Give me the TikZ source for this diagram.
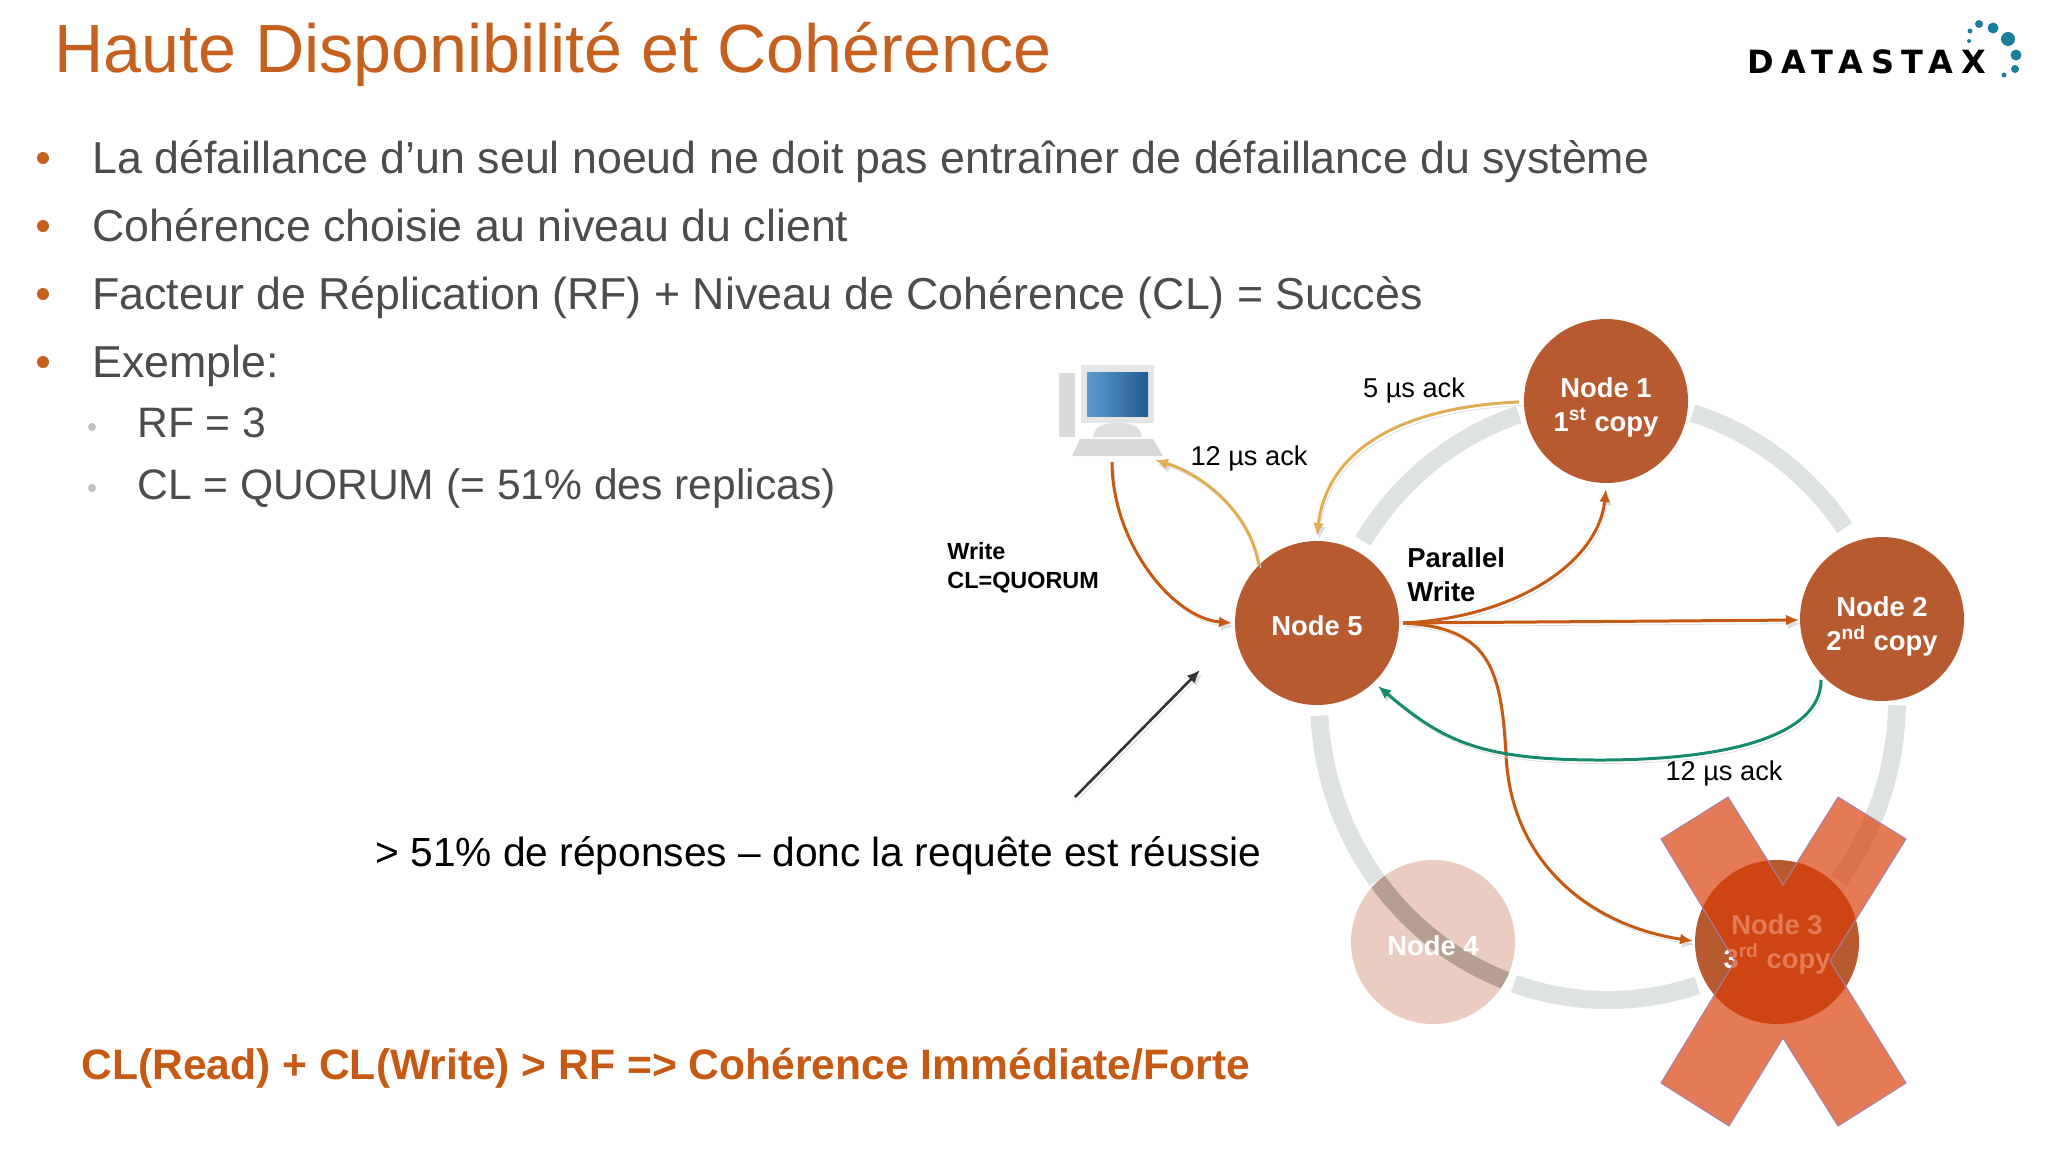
\documentclass[tikz,border=0pt]{standalone}
\usepackage{fontspec}
\usetikzlibrary{arrows.meta}
\setmainfont{Liberation Sans}
\newfontfamily\logofont[LetterSpace=24]{DejaVu Sans}
\definecolor{rust}{HTML}{B85A30}
\definecolor{ringgrey}{HTML}{DEE2E2}
\definecolor{ringdark}{HTML}{B4BEBA}
\definecolor{titleorange}{HTML}{C5601F}
\definecolor{bodygrey}{HTML}{4F4B48}
\definecolor{wire}{HTML}{C65A14}
\definecolor{ackgold}{HTML}{E0AD55}
\definecolor{ackgreen}{HTML}{178A6E}
\definecolor{crossred}{HTML}{D93B06}
\definecolor{logoblue}{HTML}{1A7F9E}
\definecolor{screenleft}{HTML}{5C9BD0}
\definecolor{screenright}{HTML}{245A8F}
\tikzset{
	nodecircle/.style={circle, fill=rust, minimum size=82pt, inner sep=0pt},
	nodecaption/.style={inner sep=0pt, align=center, text=white, font=\fontsize{13.7}{17}\selectfont\bfseries},
	bulletline/.style={anchor=base west, inner sep=0pt, text=bodygrey, font=\fontsize{22.37}{26}\selectfont},
	subline/.style={anchor=base west, inner sep=0pt, text=bodygrey, font=\fontsize{21.3}{26}\selectfont},
	smalllabel/.style={anchor=center, inner sep=0pt, font=\fontsize{13.6}{17}\selectfont},
	softshadow/.style={preaction={draw=black!13, transform canvas={shift={(1pt,-1.8pt)}}}},
	tipped/.style={-{Latex[length=6.5pt,width=5.5pt]}},
	wirearrow/.style={tipped, softshadow, line width=1.5pt, color=wire},
	goldarrow/.style={tipped, softshadow, line width=1.5pt, color=ackgold},
	ringpart/.style={line width=9pt, color=ringgrey},
}
\def\ringarc[#1](#2:#3){\draw[ringpart,#1] plot[domain=#2:#3,samples=40,smooth] ({1608+289*cos(\x)},{700+300*sin(\x)});}

\begin{document}
\begin{tikzpicture}[x=0.5pt,y=-0.5pt]
	%%%%% PAGE %%%%%
	\useasboundingbox (0,0) rectangle (2048,1152);
	
	\node[anchor=base west, inner sep=0pt, text=titleorange, font=\fontsize{34.1}{38}\selectfont] (title) at (54,72) {Haute Disponibilité et Cohérence};
	
	\node[anchor=base west, inner sep=0pt, font=\logofont\fontsize{16}{18}\selectfont\bfseries] (logo) at (1747,73) {DATASTAX};
	\fill[logoblue] (1979,24) circle (4);
	\fill[logoblue] (1993,28) circle (5.5);
	\fill[logoblue] (2008,39) circle (7);
	\fill[logoblue] (2016,55) circle (5.5);
	\fill[logoblue] (2015,69) circle (4);
	\fill[logoblue] (2004,75) circle (2.5);
	\fill[logoblue] (1970,31) circle (2.5);
	\fill[logoblue] (1969,41) circle (2);
	
	\fill[titleorange] (43,158) circle (6);
	\fill[titleorange] (43,226) circle (6);
	\fill[titleorange] (43,294) circle (6);
	\fill[titleorange] (43,362) circle (6);
	\fill[black!25] (92,427) circle (4);
	\fill[black!25] (92,488) circle (4);
	
	\node[bulletline] (lineone) at (92,173) {La défaillance d’un seul noeud ne doit pas entraîner de défaillance du système};
	\node[bulletline] (linetwo) at (92,241) {Cohérence choisie au niveau du client};
	\node[bulletline] (linethree) at (92,309) {Facteur de Réplication (RF) + Niveau de Cohérence (CL) = Succès};
	\node[bulletline] (linefour) at (92,377) {Exemple:};
	\node[subline] (linerf) at (137,437) {RF = 3};
	\node[subline] (linecl) at (137,499) {CL = QUORUM (= 51\% des replicas)};
	
	\node[anchor=base west, inner sep=0pt, font=\fontsize{20.35}{25}\selectfont] (answer) at (375,866) {> 51\% de réponses – donc la requête est réussie};
	\node[anchor=base west, inner sep=0pt, text=wire, font=\fontsize{21.3}{25}\selectfont\bfseries] (rule) at (81,1079) {CL(Read) + CL(Write) > RF => Cohérence Immédiate/Forte};
	
	%%%%% RING %%%%%
	\ringarc[](-73:-35);
	\ringarc[](-148:-108);
	\ringarc[](1:37);
	\ringarc[](72:109);
	\ringarc[](177:143);
	
	%%%%% COMPUTER %%%%%
	\fill[black!14] (1059,373) rectangle (1075,437);
	\fill[black!10] (1081,365) rectangle (1154,423);
	\shade[left color=screenleft, right color=screenright] (1087,372) rectangle (1148,416);
	\fill[black!13] (1093,437) .. controls (1095,425) and (1105,423) .. (1118,423) .. controls (1130,423) and (1140,425) .. (1142,437) -- cycle;
	\fill[black!15] (1080,439) -- (1153,439) -- (1163,456) -- (1072,456) -- cycle;
	
	%%%%% NODES %%%%%
	\node[nodecircle] (n1) at (1606,401) {};
	\node[nodecircle] (n2) at (1882,619) {};
	\node[nodecircle] (n3) at (1777,942) {};
	\node[nodecircle] (n5) at (1317,623) {};
	
	\begin{scope}
		\clip (1433,942) circle (82);
		\ringarc[color=ringdark](143:108);
	\end{scope}
	\node[nodecircle, fill opacity=0.3] (n4) at (1433,942) {};
	
	\node[nodecaption, yshift=-3pt] (capone) at (n1) {Node 1\\1\textsuperscript{st} copy};
	\node[nodecaption, yshift=-3.5pt] (captwo) at (n2) {Node 2\\2\textsuperscript{nd} copy};
	\node[nodecaption, yshift=-1pt] (capthree) at (n3) {Node 3\\3\textsuperscript{rd} copy};
	\node[nodecaption, yshift=-2pt] (capfour) at (n4) {Node 4};
	\node[nodecaption, yshift=-1.5pt] (capfive) at (n5) {Node 5};
	
	\draw[line width=0.5pt, draw=violet!40!gray!70, fill=crossred, fill opacity=0.68] (1728,797) -- (1661,839) -- (1735,961) -- (1661,1083) -- (1729,1126) -- (1783,1038) -- (1838,1126) -- (1906,1083) -- (1830,961) -- (1906,839) -- (1838,797) -- (1783,885) -- cycle;
	
	%%%%% ARROWS %%%%%
	\coordinate (client) at (1112,462);
	\coordinate (clientin) at (1155,460);
	\coordinate (answertip) at (1075,797);
	\coordinate (nfivein) at (1232,623);
	\coordinate (nfivetop) at (1317,536);
	\coordinate (nfivewire) at (1403,623);
	\coordinate (nfivenear) at (1200,670);
	\coordinate (nonein) at (1606,489);
	\coordinate (noneout) at (1519,402);
	\coordinate (ntwoin) at (1799,620);
	\coordinate (nthreein) at (1693,941);
	\coordinate (ntwoout) at (1821,680);
	\coordinate (nfiveack) at (1378,686);
	\coordinate (wirebend) at (1506,755);
	\coordinate (ackbottom) at (1600,760);
	
	\draw[wirearrow] (client) .. controls +(0,80) and +(-60,-5) .. (nfivein);
	\draw[goldarrow] (n5.135) .. controls +(-8,-50) and +(50,15) .. (clientin);
	\draw[goldarrow] (noneout) .. controls +(-120,5) and +(10,-85) .. (nfivetop);
	\draw[wirearrow] (nfivewire) .. controls +(110,-5) and +(-8,75) .. (nonein);
	\draw[wirearrow] (nfivewire) -- (ntwoin);
	\draw[wirearrow] (nfivewire) .. controls +(85,5) and +(-5,-90) .. (wirebend) .. controls +(5,110) and +(-100,-15) .. (nthreein);
	\draw[tipped, softshadow, line width=1.5pt, color=ackgreen] (ntwoout) .. controls +(0,55) and +(130,0) .. (ackbottom) .. controls +(-120,0) and +(65,55) .. (nfiveack);
	\draw[tipped, softshadow, line width=1.3pt, color=black!80] (answertip) -- (nfivenear);
	
	%%%%% LABELS %%%%%
	\node[smalllabel] (ackone) at (1414,390) {5 µs ack};
	\node[smalllabel] (ackclient) at (1249,458) {12 µs ack};
	\node[smalllabel] (acktwo) at (1724,773) {12 µs ack};
	\node[anchor=west, inner sep=0pt, align=left, font=\fontsize{13.7}{17}\selectfont\bfseries] (parallel) at (1407,575) {Parallel\\Write};
	\node[anchor=west, inner sep=0pt, align=left, font=\fontsize{11.7}{14.5}\selectfont\bfseries] (writecl) at (947,568) {Write\\CL=QUORUM};
\end{tikzpicture}
\end{document}
